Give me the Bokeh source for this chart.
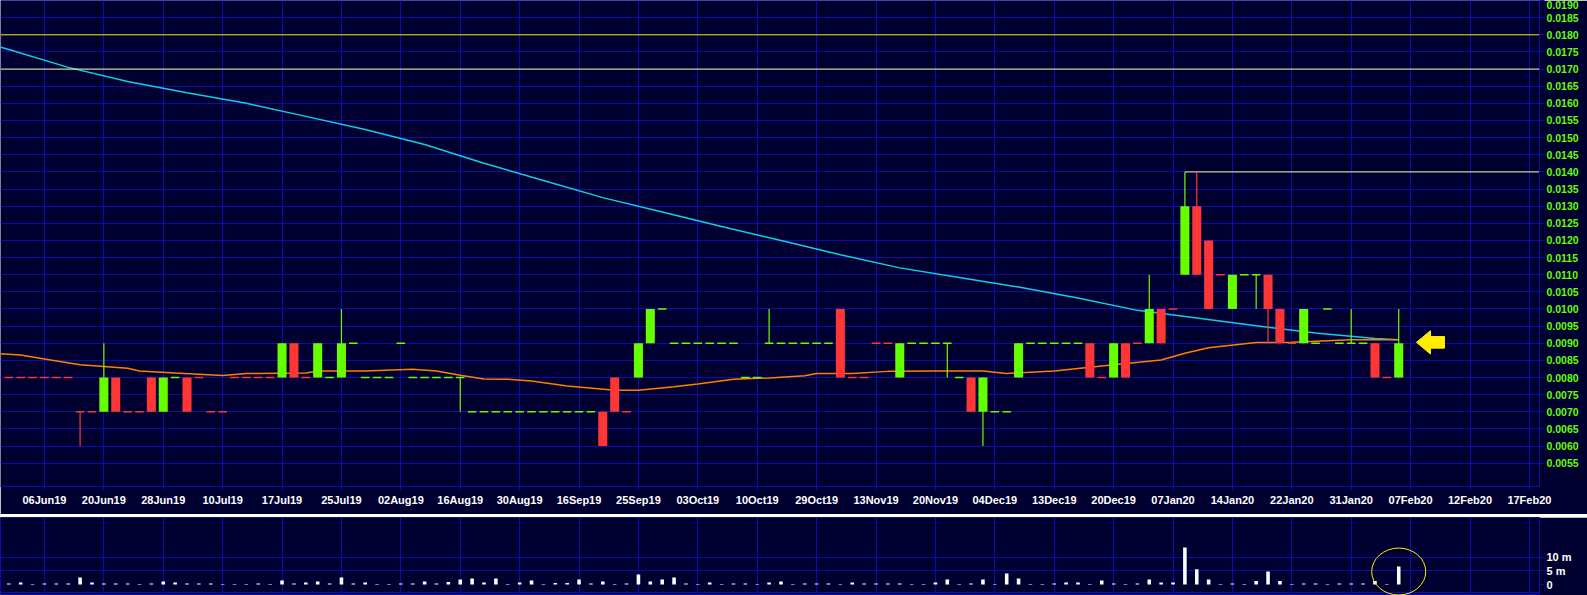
from bokeh.plotting import figure
from bokeh.layouts import column
from bokeh.models import Range1d, FixedTicker, NumeralTickFormatter, Span, ColumnDataSource
from bokeh.embed import file_html
from bokeh.resources import INLINE

# ---------------- data ----------------
date_labels = ["06Jun19", "20Jun19", "28Jun19", "10Jul19", "17Jul19", "25Jul19", "02Aug19",
               "16Aug19", "30Aug19", "16Sep19", "25Sep19", "03Oct19", "10Oct19", "29Oct19",
               "13Nov19", "20Nov19", "04Dec19", "13Dec19", "20Dec19", "07Jan20", "14Jan20",
               "22Jan20", "31Jan20", "07Feb20", "12Feb20", "17Feb20"]

opens = [
    0.008, 0.008, 0.008, 0.008, 0.008, 0.008, 0.007, 0.007, 0.007, 0.008,
    0.007, 0.007, 0.008, 0.007, 0.008, 0.008, 0.008, 0.007, 0.007, 0.008,
    0.008, 0.008, 0.008, 0.008, 0.009, 0.008, 0.008, 0.008, 0.008, 0.009,
    0.008, 0.008, 0.008, 0.009, 0.008, 0.008, 0.008, 0.008, 0.008, 0.007,
    0.007, 0.007, 0.007, 0.007, 0.007, 0.007, 0.007, 0.007, 0.007, 0.007,
    0.007, 0.008, 0.007, 0.008, 0.009, 0.010, 0.009, 0.009, 0.009, 0.009,
    0.009, 0.009, 0.008, 0.008, 0.009, 0.009, 0.009, 0.009, 0.009, 0.009,
    0.010, 0.008, 0.008, 0.009, 0.009, 0.008, 0.009, 0.009, 0.009, 0.009,
    0.008, 0.008, 0.007, 0.007, 0.007, 0.008, 0.009, 0.009, 0.009, 0.009,
    0.009, 0.009, 0.008, 0.008, 0.009, 0.009, 0.009, 0.010, 0.010, 0.011,
    0.013, 0.012, 0.011, 0.010, 0.011, 0.011, 0.011, 0.010, 0.009, 0.009,
    0.009, 0.010, 0.009, 0.009, 0.009, 0.009, 0.008, 0.008]

closes = [
    0.008, 0.008, 0.008, 0.008, 0.008, 0.008, 0.007, 0.007, 0.008, 0.007,
    0.007, 0.007, 0.007, 0.008, 0.008, 0.007, 0.008, 0.007, 0.007, 0.008,
    0.008, 0.008, 0.008, 0.009, 0.008, 0.008, 0.009, 0.008, 0.009, 0.009,
    0.008, 0.008, 0.008, 0.009, 0.008, 0.008, 0.008, 0.008, 0.008, 0.007,
    0.007, 0.007, 0.007, 0.007, 0.007, 0.007, 0.007, 0.007, 0.007, 0.007,
    0.006, 0.007, 0.007, 0.009, 0.010, 0.010, 0.009, 0.009, 0.009, 0.009,
    0.009, 0.009, 0.008, 0.008, 0.009, 0.009, 0.009, 0.009, 0.009, 0.009,
    0.008, 0.008, 0.008, 0.009, 0.009, 0.009, 0.009, 0.009, 0.009, 0.009,
    0.008, 0.007, 0.008, 0.007, 0.007, 0.009, 0.009, 0.009, 0.009, 0.009,
    0.009, 0.008, 0.008, 0.009, 0.008, 0.009, 0.010, 0.009, 0.010, 0.013,
    0.011, 0.010, 0.011, 0.011, 0.011, 0.011, 0.010, 0.009, 0.009, 0.010,
    0.009, 0.010, 0.009, 0.009, 0.009, 0.008, 0.008, 0.009]

highs = [
    0.008, 0.008, 0.008, 0.008, 0.008, 0.008, 0.007, 0.007, 0.009, 0.008,
    0.007, 0.007, 0.008, 0.008, 0.008, 0.008, 0.008, 0.007, 0.007, 0.008,
    0.008, 0.008, 0.008, 0.009, 0.009, 0.008, 0.009, 0.008, 0.010, 0.009,
    0.008, 0.008, 0.008, 0.009, 0.008, 0.008, 0.008, 0.008, 0.008, 0.007,
    0.007, 0.007, 0.007, 0.007, 0.007, 0.007, 0.007, 0.007, 0.007, 0.007,
    0.007, 0.008, 0.007, 0.009, 0.010, 0.010, 0.009, 0.009, 0.009, 0.009,
    0.009, 0.009, 0.008, 0.008, 0.010, 0.009, 0.009, 0.009, 0.009, 0.009,
    0.010, 0.008, 0.008, 0.009, 0.009, 0.009, 0.009, 0.009, 0.009, 0.009,
    0.008, 0.008, 0.008, 0.007, 0.007, 0.009, 0.009, 0.009, 0.009, 0.009,
    0.009, 0.009, 0.008, 0.009, 0.009, 0.009, 0.011, 0.010, 0.010, 0.014,
    0.014, 0.012, 0.011, 0.011, 0.011, 0.011, 0.011, 0.010, 0.009, 0.010,
    0.009, 0.010, 0.009, 0.010, 0.009, 0.009, 0.008, 0.010]

lows = [
    0.008, 0.008, 0.008, 0.008, 0.008, 0.008, 0.006, 0.007, 0.007, 0.007,
    0.007, 0.007, 0.007, 0.007, 0.008, 0.007, 0.008, 0.007, 0.007, 0.008,
    0.008, 0.008, 0.008, 0.008, 0.008, 0.008, 0.008, 0.008, 0.008, 0.009,
    0.008, 0.008, 0.008, 0.009, 0.008, 0.008, 0.008, 0.008, 0.007, 0.007,
    0.007, 0.007, 0.007, 0.007, 0.007, 0.007, 0.007, 0.007, 0.007, 0.007,
    0.006, 0.007, 0.007, 0.008, 0.009, 0.010, 0.009, 0.009, 0.009, 0.009,
    0.009, 0.009, 0.008, 0.008, 0.009, 0.009, 0.009, 0.009, 0.009, 0.009,
    0.008, 0.008, 0.008, 0.009, 0.009, 0.008, 0.009, 0.009, 0.009, 0.008,
    0.008, 0.007, 0.006, 0.007, 0.007, 0.008, 0.009, 0.009, 0.009, 0.009,
    0.009, 0.008, 0.008, 0.008, 0.008, 0.009, 0.009, 0.009, 0.010, 0.011,
    0.011, 0.010, 0.011, 0.010, 0.011, 0.010, 0.009, 0.009, 0.009, 0.009,
    0.009, 0.010, 0.009, 0.009, 0.009, 0.008, 0.008, 0.008]

# volume in millions
volumes = [
    0.35, 0.75, 0.2, 0.35, 0.35, 0.35, 2.6, 0.75, 0.35, 0.35,
    0.35, 0.2, 0.35, 1.1, 0.75, 0.35, 0.35, 0.35, 0.2, 0.2,
    0.2, 0.35, 0.2, 1.5, 0.35, 0.75, 1.1, 0.35, 2.6, 0.35,
    0.75, 0.2, 0.2, 0.35, 0.35, 1.1, 0.35, 0.9, 1.85, 2.2,
    0.75, 2.2, 0.2, 0.75, 1.5, 0.2, 0.6, 0.6, 1.85, 0.35,
    1.1, 0.2, 0.35, 3.7, 1.1, 1.85, 2.6, 0.35, 0.2, 0.75,
    0.2, 0.35, 0.35, 0.2, 0.75, 1.1, 0.2, 0.35, 0.35, 0.35,
    0.2, 0.75, 0.35, 0.35, 0.35, 0.35, 0.2, 0.2, 0.75, 1.85,
    0.2, 0.35, 1.85, 0.2, 4.1, 2.2, 0.2, 0.2, 0.35, 0.75,
    0.75, 0.2, 1.5, 0.35, 0.2, 0.35, 1.85, 0.75, 0.75, 13.7,
    5.6, 1.85, 0.2, 0.35, 0.2, 1.3, 4.8, 1.3, 0.2, 0.35,
    0.35, 0.2, 0.35, 0.35, 0.35, 1.3, 0.2, 6.7]

# long moving average (cyan), sampled at bar indices
ma_long_bars = [-1, 0, 5, 10, 15, 20, 25, 30, 35, 40, 45, 50, 55, 60, 65, 70, 75, 80, 85,
                90, 95, 100, 105, 110, 115, 117]
ma_long = [0.01767, 0.01757, 0.01705, 0.01664, 0.01631, 0.01600, 0.01562, 0.01524, 0.01480,
           0.01425, 0.01375, 0.01325, 0.01283, 0.01241, 0.01200, 0.01158, 0.01120, 0.01092,
           0.01064, 0.01032, 0.00996, 0.00974, 0.00951, 0.00930, 0.00914, 0.00910]

# short moving average (orange)
ma_short_bars = [-1, 1, 3, 6, 10, 11, 14, 18, 20, 25, 26, 30, 34, 36, 38, 40, 42, 44, 47, 51,
                 53, 56, 58, 61, 64, 67, 68, 71, 74, 78, 82, 84, 88, 93, 97, 99, 101, 105, 108,
                 113, 117]
ma_short = [0.00870, 0.00866, 0.00854, 0.00837, 0.00827, 0.00819, 0.00813, 0.00806, 0.00812,
            0.00813, 0.00819, 0.00819, 0.00824, 0.00819, 0.00807, 0.00796, 0.00795, 0.00790,
            0.00775, 0.00763, 0.00763, 0.00773, 0.00781, 0.00795, 0.00799, 0.00805, 0.00812,
            0.00812, 0.00818, 0.00819, 0.00819, 0.00812, 0.00819, 0.00837, 0.00851, 0.00871,
            0.00887, 0.00902, 0.00903, 0.00910, 0.00910]

level_lines = [0.0180, 0.0170]
price_ticks = [0.0055, 0.0060, 0.0065, 0.0070, 0.0075, 0.0080, 0.0085, 0.0090, 0.0095, 0.0100,
               0.0105, 0.0110, 0.0115, 0.0120, 0.0125, 0.0130, 0.0135, 0.0140, 0.0145, 0.0150,
               0.0155, 0.0160, 0.0165, 0.0170, 0.0175, 0.0180, 0.0185, 0.0190]
volume_ticks = [0, 5, 10]
volume_labels = ["0", "5 m", "10 m"]

# ---------------- style ----------------
BG = "#000030"
GRID = "#0c0cb0"
GREEN = "#66ff00"
RED = "#ff3636"
CYAN = "#10d0e0"
ORANGE = "#ff8000"
FONT = "Liberation Sans"

n = len(opens)
x_start, x_end = -0.70, 128.85
tick_bars = [3 + 5 * k for k in range(len(date_labels))]

colors = []
prev = RED
for o, c in zip(opens, closes):
    if c > o:
        prev = GREEN
    elif c < o:
        prev = RED
    colors.append(prev)

body = dict(x=[], bottom=[], top=[], color=[])
doji = dict(x0=[], x1=[], y=[], color=[])
wick = dict(x=[], y0=[], y1=[], color=[])
for i in range(n):
    o, h, l, c, col = opens[i], highs[i], lows[i], closes[i], colors[i]
    if h > l:
        wick["x"].append(i); wick["y0"].append(l); wick["y1"].append(h); wick["color"].append(col)
    if o != c:
        body["x"].append(i); body["bottom"].append(min(o, c)); body["top"].append(max(o, c))
        body["color"].append(col)
    else:
        doji["x0"].append(i - 0.36); doji["x1"].append(i + 0.36); doji["y"].append(c)
        doji["color"].append(col)

# ---------------- main price chart ----------------
p = figure(frame_width=1539, frame_height=486,
           x_range=Range1d(x_start, x_end), y_range=Range1d(0.004821, 0.019001),
           y_axis_location="right", output_backend="svg", toolbar_location=None,
           background_fill_color=BG, border_fill_color=BG, outline_line_color=None,
           min_border_left=0, min_border_top=0, min_border_right=48, min_border_bottom=28)

p.xaxis.ticker = FixedTicker(ticks=tick_bars)
p.xaxis.major_label_overrides = {b: lab for b, lab in zip(tick_bars, date_labels)}
p.xaxis.major_label_text_color = "white"
p.xaxis.major_label_text_font = FONT
p.xaxis.major_label_text_font_style = "bold"
p.xaxis.major_label_text_font_size = "11px"
p.xaxis.axis_line_color = GRID
p.xaxis.major_tick_line_color = GRID
p.xaxis.major_tick_out = 4
p.xaxis.major_tick_in = 0
p.xaxis.minor_tick_line_color = None
p.xaxis.major_label_standoff = 3

p.yaxis.ticker = FixedTicker(ticks=price_ticks)
p.yaxis.formatter = NumeralTickFormatter(format="0.0000")
p.yaxis.major_label_text_color = GREEN
p.yaxis.major_label_text_font = FONT
p.yaxis.major_label_text_font_style = "bold"
p.yaxis.major_label_text_font_size = "10.5px"
p.yaxis.axis_line_color = GRID
p.yaxis.major_tick_line_color = GRID
p.yaxis.major_tick_out = 5
p.yaxis.major_tick_in = 0
p.yaxis.minor_tick_line_color = None
p.yaxis.major_label_standoff = 2

p.xgrid.ticker = FixedTicker(ticks=tick_bars)
p.ygrid.ticker = FixedTicker(ticks=price_ticks)
p.xgrid.grid_line_color = GRID
p.ygrid.grid_line_color = GRID

for lvl, col in zip(level_lines, ["#ffe000", "#ffff90"]):
    p.add_layout(Span(location=lvl, dimension="width", line_color=col, line_width=1))

# line at the period high, from the bar that made it
top_bar = max(range(n), key=lambda i: highs[i])
p.segment(x0=[top_bar], y0=[highs[top_bar]], x1=[x_end], y1=[highs[top_bar]],
          line_color="#ffff70", line_width=1)

p.line(ma_long_bars, ma_long, line_color=CYAN, line_width=1.5)
p.line(ma_short_bars, ma_short, line_color=ORANGE, line_width=1.5)

p.segment(x0="x", y0="y0", x1="x", y1="y1", line_color="color", line_width=1.2,
          source=ColumnDataSource(wick))
p.vbar(x="x", bottom="bottom", top="top", width=0.76, fill_color="color", line_color=None,
       source=ColumnDataSource(body))
p.segment(x0="x0", y0="y", x1="x1", y1="y", line_color="color", line_width=1.5,
          source=ColumnDataSource(doji))

# yellow pointer arrow at the last close
last = n - 1
ay = 0.009027
p.patch(x=[last + 1.49, last + 2.67, last + 2.67, last + 3.85, last + 3.85, last + 2.67, last + 2.67],
        y=[ay, ay + 0.000341, ay + 0.000169, ay + 0.000169, ay - 0.000169, ay - 0.000169, ay - 0.000341],
        fill_color="#ffee00", line_color="#ffee00")

# ---------------- separator ----------------
sep = figure(width=1587, height=3, output_backend="svg", toolbar_location=None,
             x_axis_location=None, y_axis_location=None, min_border=0,
             background_fill_color="white", border_fill_color="white", outline_line_color=None,
             x_range=Range1d(0, 1), y_range=Range1d(0, 1))
sep.xgrid.visible = False
sep.ygrid.visible = False
sep.line([0, 1], [0.5, 0.5], line_color="white", line_width=1)

# ---------------- volume panel ----------------
v = figure(frame_width=1539, frame_height=78, x_range=p.x_range, y_range=Range1d(-4.07, 24.8),
           x_axis_location=None, y_axis_location="right", output_backend="svg",
           toolbar_location=None, background_fill_color=BG, border_fill_color=BG,
           outline_line_color=GRID, min_border_left=0, min_border_top=0,
           min_border_bottom=0, min_border_right=48)
v.yaxis.ticker = FixedTicker(ticks=volume_ticks)
v.yaxis.major_label_overrides = {t: lab for t, lab in zip(volume_ticks, volume_labels)}
v.yaxis.major_label_text_color = "white"
v.yaxis.major_label_text_font = FONT
v.yaxis.major_label_text_font_style = "bold"
v.yaxis.major_label_text_font_size = "11px"
v.yaxis.axis_line_color = GRID
v.yaxis.major_tick_line_color = GRID
v.yaxis.major_tick_out = 5
v.yaxis.major_tick_in = 0
v.yaxis.minor_tick_line_color = None
v.yaxis.major_label_standoff = 2
v.xgrid.ticker = FixedTicker(ticks=tick_bars)
v.xgrid.grid_line_color = GRID
v.ygrid.ticker = FixedTicker(ticks=[-3, 5, 10])
v.ygrid.grid_line_color = GRID

v.vbar(x=list(range(n)), bottom=0, top=volumes, width=0.3, fill_color="white", line_color=None)
v.ellipse(x=[last], y=[4.8], width=4.55, height=17.4, fill_color=None,
          line_color="#ffee00", line_width=1)

layout = column(p, sep, v, spacing=0)
open("out.html", "w").write(file_html(layout, INLINE))
